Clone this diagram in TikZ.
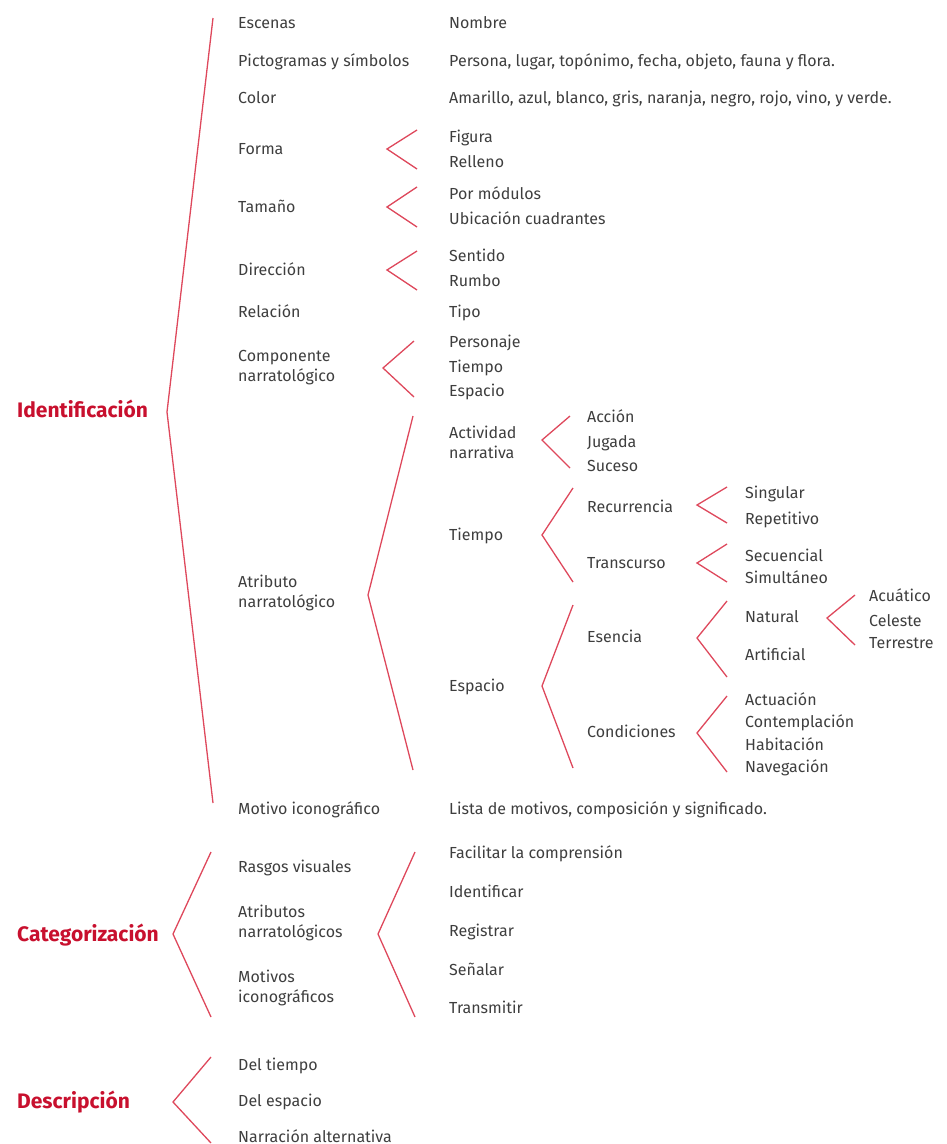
\documentclass[tikz,border=0pt]{standalone}
\usepackage{fontspec}
\setmainfont{Fira Sans}
\usetikzlibrary{positioning}
\definecolor{InkGray}{RGB}{62, 62, 62}
\definecolor{TitleRed}{RGB}{200, 16, 46}
\definecolor{LineRed}{RGB}{222, 72, 92}

\begin{document}
\begin{tikzpicture}[x=1pt, y=-1pt,
        item/.style={anchor=base west, inner sep=0pt, text=InkGray,
                     font=\fontsize{16}{20}\selectfont},
        twoline/.style={item, anchor=west, align=left},
        heading/.style={anchor=base west, inner sep=0pt, text=TitleRed,
                        font=\fontsize{21}{24}\selectfont\bfseries},
        chevron/.style={LineRed, line width=1.3pt, line join=miter}]
            \useasboundingbox (0,0) rectangle (946,1144);

            % Section headings
            \node[heading] (ident) at (17,417) {Identificación};
            \node[heading] (categ) at (17,941) {Categorización};
            \node[heading] (descr) at (17,1108) {Descripción};

            % Chevrons: name / top x / top y / apex x / apex y / bottom y
            \foreach \n/\xt/\yt/\xa/\ya/\yb in {
                    id/213/18/167/412/803, forma/417/130/387/149/169,
                    tam/417/187/387/207/227, dir/417/251/387/270/290,
                    comp/414/341/383/368/397, atr/413/416/368/595/770,
                    act/570/416/542/440/468, tiem/573/488/542/535/582,
                    esp/573/605/542/686/768, rec/727/487/697/505/523,
                    tra/727/544/697/563/582, esen/727/601/697/638/677,
                    nat/855/595/827/618/645, cond/727/696/697/733/772,
                    cat/211/852/173/934/1017, catb/415/852/378/934/1017,
                    des/211/1057/173/1102/1143} {
                \coordinate (\n-t) at (\xt,\yt);
                \coordinate (\n-a) at (\xa,\ya);
                \coordinate (\n-b) at (\xt,\yb);
                \draw[chevron] (\n-t) -- (\n-a) -- (\n-b);
            }

            % Identificacion, first level
            \foreach \n/\y/\t in {esc/28/Escenas, pic/66/Pictogramas y símbolos,
                    col/103/Color, for/154/Forma, tam/212/Tamaño, dir/275/Dirección,
                    rel/317/Relación, mot/814/Motivo iconográfico}
                \node[item] (\n) at (238,\y) {\t};
            \node[twoline] (comp) at (238,368) {Componente\\narratológico};
            \node[twoline] (atr) at (238,593) {Atributo\\narratológico};

            % Identificacion, second level
            \node[item] (nom) at (449,28) {Nombre};
            \node[item] (per) at (449,66) {Persona, lugar, topónimo, fecha, objeto, fauna y flora.};
            \node[item] (ama) at (449,103) {Amarillo, azul, blanco, gris, naranja, negro, rojo, vino, y verde.};
            \foreach \n/\y/\t in {fig/142/Figura, rel2/167/Relleno, pmod/199/Por módulos,
                    ubi/224/Ubicación cuadrantes, sen/261/Sentido, rum/286/Rumbo,
                    tipo/317/Tipo, pers/347/Personaje, tiec/372/Tiempo, espc/396/Espacio,
                    tiem/540/Tiempo, esp/691/Espacio}
                \node[item] (\n) at (449,\y) {\t};
            \node[twoline] (act) at (449,442) {Actividad\\narrativa};
            \node[item] (lista) at (449,814) {Lista de motivos, composición y significado.};

            % Atributo narratologico, deeper levels
            \foreach \n/\y/\t in {acc/422/Acción, jug/447/Jugada, suc/471/Suceso,
                    rec/512/Recurrencia, tra/568/Transcurso, esen/642/Esencia,
                    cond/737/Condiciones}
                \node[item] (\n) at (587,\y) {\t};
            \foreach \n/\y/\t in {sing/498/Singular, rep/524/Repetitivo,
                    sec/561/Secuencial, sim/583/Simultáneo, nat/622/Natural,
                    art/660/Artificial, actu/705/Actuación, cont/727/Contemplación,
                    hab/750/Habitación, nav/772/Navegación}
                \node[item] (\n) at (745,\y) {\t};
            \foreach \n/\y/\t in {acu/601/Acuático, cel/626/Celeste, ter/648/Terrestre}
                \node[item] (\n) at (869,\y) {\t};

            % Categorizacion
            \node[item] (rasg) at (238,872) {Rasgos visuales};
            \node[twoline] (atrs) at (238,923) {Atributos\\narratológicos};
            \node[twoline] (mots) at (238,988) {Motivos\\iconográficos};
            \foreach \n/\y/\t in {fac/858/Facilitar la comprensión, iden/897/Identificar,
                    reg/936/Registrar, sen2/975/Señalar, tran/1013/Transmitir}
                \node[item] (\n) at (449,\y) {\t};

            % Descripcion
            \foreach \n/\y/\t in {dtie/1070/Del tiempo, desp/1106/Del espacio,
                    narr/1142/Narración alternativa}
                \node[item] (\n) at (238,\y) {\t};
        \end{tikzpicture}
\end{document}
